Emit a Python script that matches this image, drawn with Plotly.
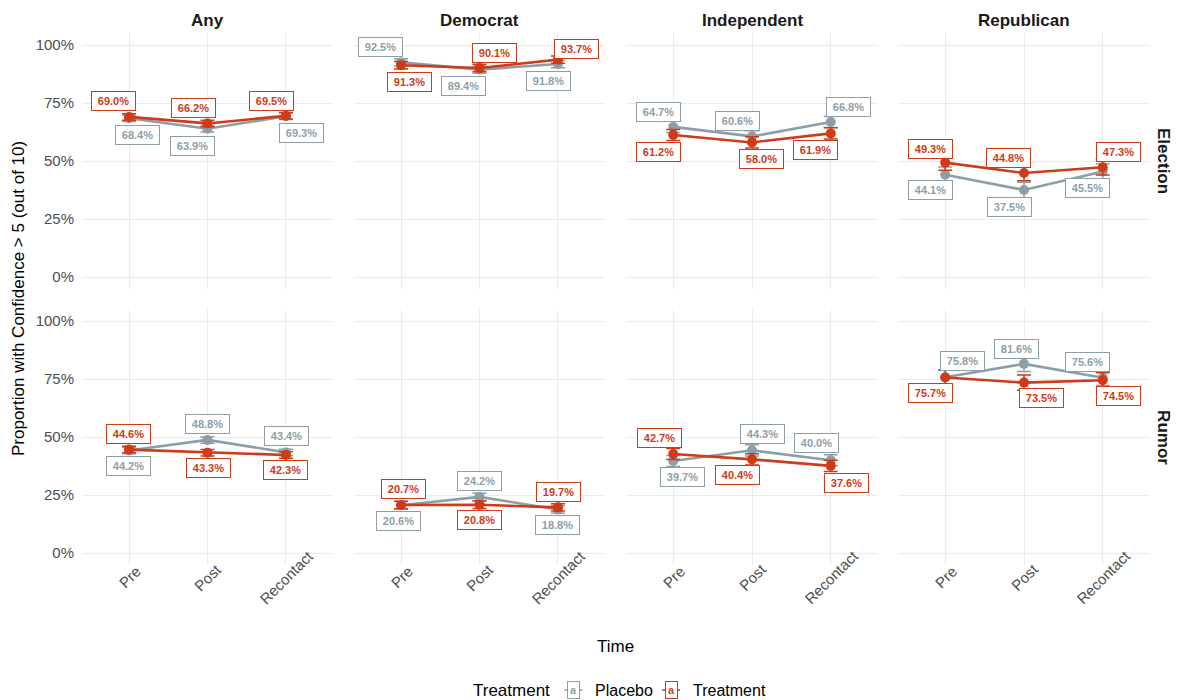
import plotly.graph_objects as go

# ---- data -------------------------------------------------------------
times = ["Pre", "Post", "Recontact"]
parties = ["Any", "Democrat", "Independent", "Republican"]
outcomes = ["Election", "Rumor"]
y_ticks = [0, 25, 50, 75, 100]
y_tick_labels = ["0%", "25%", "50%", "75%", "100%"]

# Share (%) with confidence > 5, by wave
placebo_election = {
    "Any": [68.4, 63.9, 69.3],
    "Democrat": [92.5, 89.4, 91.8],
    "Independent": [64.7, 60.6, 66.8],
    "Republican": [44.1, 37.5, 45.5],
}
treatment_election = {
    "Any": [69.0, 66.2, 69.5],
    "Democrat": [91.3, 90.1, 93.7],
    "Independent": [61.2, 58.0, 61.9],
    "Republican": [49.3, 44.8, 47.3],
}
placebo_rumor = {
    "Any": [44.2, 48.8, 43.4],
    "Democrat": [20.6, 24.2, 18.8],
    "Independent": [39.7, 44.3, 40.0],
    "Republican": [75.8, 81.6, 75.6],
}
treatment_rumor = {
    "Any": [44.6, 43.3, 42.3],
    "Democrat": [20.7, 20.8, 19.7],
    "Independent": [42.7, 40.4, 37.6],
    "Republican": [75.7, 73.5, 74.5],
}
# approximate standard errors (percentage points) per party
std_err = {"Any": 1.4, "Democrat": 1.6, "Independent": 2.4, "Republican": 3.3}

values = {
    ("Election", "Placebo"): placebo_election,
    ("Election", "Treatment"): treatment_election,
    ("Rumor", "Placebo"): placebo_rumor,
    ("Rumor", "Treatment"): treatment_rumor,
}

# ---- styling ----------------------------------------------------------
colors = {"Placebo": "#8E9EA7", "Treatment": "#CF3A17"}
FONT = "Liberation Sans, Arial, sans-serif"
W, H = 1177, 700

# label nudges (px; +dy is upward) per outcome / party / group
label_offsets = {
    ("Election", "Any", "Treatment"): [(-16, 16), (-14, 15), (-14, 15)],
    ("Election", "Any", "Placebo"): [(8, -17), (-15, -17), (16, -17)],
    ("Election", "Democrat", "Placebo"): [(-21, 15), (-16, -16), (-9, -17)],
    ("Election", "Democrat", "Treatment"): [(8, -17), (15, 15), (19, 11)],
    ("Election", "Independent", "Placebo"): [(-15, 15), (-15, 15), (18, 15)],
    ("Election", "Independent", "Treatment"): [(-15, -17), (9, -17), (-15, -17)],
    ("Election", "Republican", "Treatment"): [(-15, 14), (-16, 15), (16, 15)],
    ("Election", "Republican", "Placebo"): [(-15, -15), (-15, -17), (-15, -17)],
    ("Rumor", "Any", "Treatment"): [(-1, 16), (1, -15), (0, -15)],
    ("Rumor", "Any", "Placebo"): [(-1, -15), (0, 16), (1, 16)],
    ("Rumor", "Democrat", "Treatment"): [(2, 16), (0, -15), (1, 15)],
    ("Rumor", "Democrat", "Placebo"): [(-3, -16), (0, 16), (0, -16)],
    ("Rumor", "Independent", "Treatment"): [(-14, 16), (-15, -16), (16, -17)],
    ("Rumor", "Independent", "Placebo"): [(9, -16), (10, 16), (-14, 17)],
    ("Rumor", "Republican", "Placebo"): [(17, 16), (-8, 15), (-15, 16)],
    ("Rumor", "Republican", "Treatment"): [(-15, -15), (17, -15), (16, -16)],
}

# panel geometry in pixels
col_px = [(82, 333), (354, 605), (626, 878), (898, 1150)]
row_px = [(33.4, 288.6), (309.6, 564.6)]


def px_x(x):
    return x / W


def px_y(y):
    return 1 - y / H


def text_at(x, y, text, size, color, angle=0, bold=False, **kw):
    """Centered paper-anchored text placed by pixel position."""
    return dict(
        x=px_x(x), y=px_y(y), xref="paper", yref="paper",
        text=f"<b>{text}</b>" if bold else text, textangle=angle,
        showarrow=False, xanchor=kw.pop("xanchor", "center"), yanchor="middle",
        font=dict(family=FONT, size=size, color=color), **kw,
    )


fig = go.Figure()
layout_axes = {}
annotations = []
shapes = []

for r, outcome in enumerate(outcomes):
    for c, party in enumerate(parties):
        idx = r * 4 + c + 1
        xa = "x" if idx == 1 else f"x{idx}"
        ya = "y" if idx == 1 else f"y{idx}"
        xkey = "xaxis" if idx == 1 else f"xaxis{idx}"
        ykey = "yaxis" if idx == 1 else f"yaxis{idx}"
        x0, x1 = col_px[c]
        y0, y1 = row_px[r]
        layout_axes[xkey] = dict(
            domain=[px_x(x0), px_x(x1)], anchor=ya, range=[-0.6, 2.6],
            tickvals=[0, 1, 2], showticklabels=False, showgrid=True,
            gridcolor="#EBEBEB", gridwidth=1.2, zeroline=False, showline=False,
            ticks="", fixedrange=True,
        )
        layout_axes[ykey] = dict(
            domain=[px_y(y1), px_y(y0)], anchor=xa, range=[-5, 105],
            tickmode="array", tickvals=y_ticks, ticktext=y_tick_labels,
            showticklabels=(c == 0), showgrid=True, gridcolor="#EBEBEB",
            gridwidth=1.2, zeroline=False, showline=False, ticks="",
            ticklabelstandoff=7,
            tickfont=dict(family=FONT, size=15, color="#4D4D4D"),
            fixedrange=True,
        )
        for grp in ["Placebo", "Treatment"]:
            vals = values[(outcome, grp)][party]
            se = std_err[party]
            fig.add_trace(go.Scatter(
                x=[0, 1, 2], y=vals, xaxis=xa, yaxis=ya, mode="lines+markers",
                line=dict(color=colors[grp], width=2.6),
                marker=dict(color=colors[grp], size=10),
                error_y=dict(type="constant", value=se, color=colors[grp],
                             thickness=1.5, width=7),
                showlegend=False, hoverinfo="skip",
            ))
            offs = label_offsets[(outcome, party, grp)]
            for i, v in enumerate(vals):
                dx, dy = offs[i]
                annotations.append(dict(
                    x=i, y=v, xref=xa, yref=ya, xshift=dx, yshift=dy,
                    xanchor="center", yanchor="middle",
                    text=f"<b>{v:.1f}%</b>", showarrow=False,
                    font=dict(family=FONT, size=11, color=colors[grp]),
                    bgcolor="white", bordercolor=colors[grp], borderwidth=1,
                    borderpad=3, width=37,
                ))
        # rotated category labels under the bottom row
        if r == 1:
            for i, t in enumerate(times):
                annotations.append(dict(
                    x=i, y=px_y(577), xref=xa, yref="paper", text=t,
                    textangle=-45, showarrow=False,
                    xanchor="center", yanchor="middle",
                    font=dict(family=FONT, size=15, color="#4D4D4D"),
                ))
        # facet strip titles
        if r == 0:
            annotations.append(text_at((x0 + x1) / 2, 20, party, 17,
                                       "#1A1A1A", bold=True))
    annotations.append(text_at(1164, sum(row_px[r]) / 2, outcome, 17,
                               "#1A1A1A", angle=90, bold=True))

# axis titles
annotations.append(text_at(18, 299, "Proportion with Confidence > 5 (out of 10)",
                           17, "#000000", angle=-90))
annotations.append(text_at(616, 646, "Time", 17, "#000000"))

# legend drawn by hand: title, keys and entries
leg_y = 690
annotations.append(text_at(511, leg_y, "Treatment", 17, "#000000"))
for grp, kx, tx in [("Placebo", 573.5, 593), ("Treatment", 671, 691)]:
    shapes.append(dict(
        type="line", xref="paper", yref="paper",
        x0=px_x(kx - 9), x1=px_x(kx + 9), y0=px_y(leg_y), y1=px_y(leg_y),
        line=dict(color=colors[grp], width=1.5),
    ))
    annotations.append(text_at(kx, leg_y, "a", 11, colors[grp], bold=True,
                               bgcolor="white", bordercolor=colors[grp],
                               borderwidth=1, borderpad=2))
    annotations.append(text_at(tx, leg_y, grp, 16, "#000000", xanchor="left"))

fig.update_layout(
    width=W, height=H, margin=dict(l=0, r=0, t=0, b=0),
    paper_bgcolor="white", plot_bgcolor="white",
    annotations=annotations, shapes=shapes, showlegend=False,
    font=dict(family=FONT),
    **layout_axes,
)

fig.write_html("out.html")
